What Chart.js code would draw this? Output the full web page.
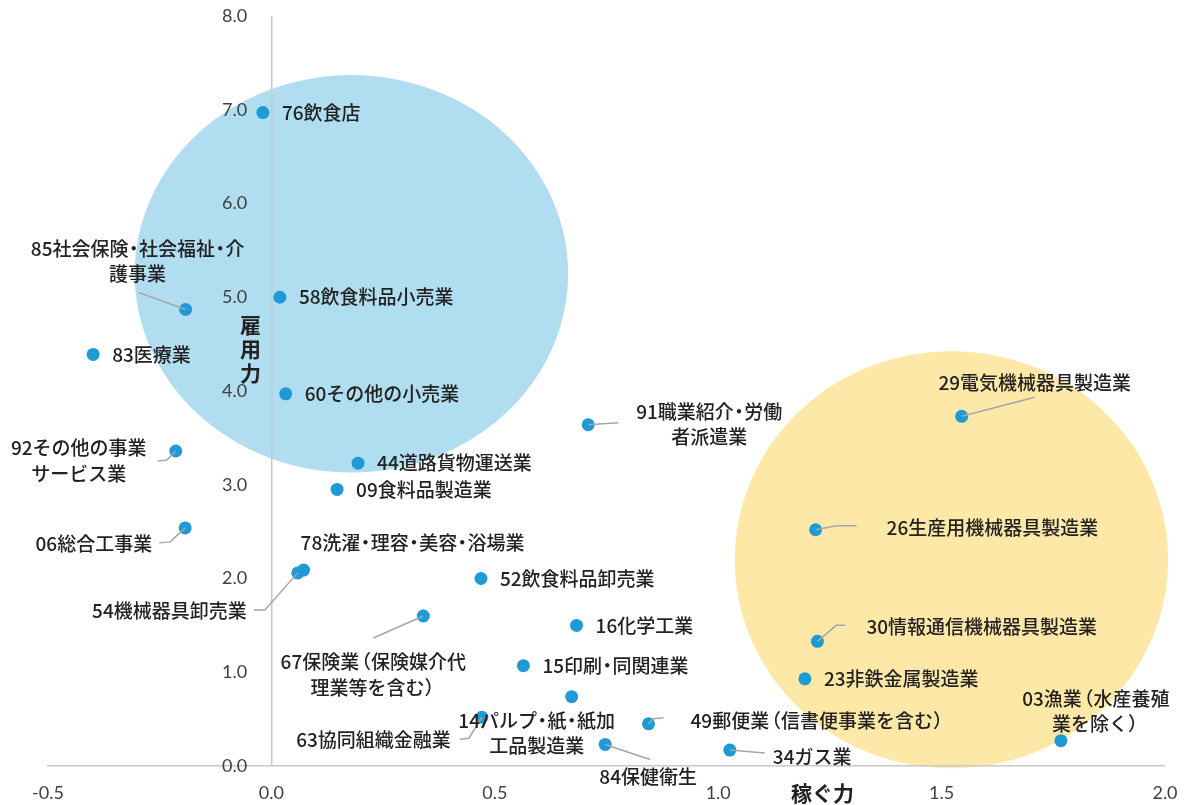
<!DOCTYPE html>
<html lang="ja">
<head>
<meta charset="utf-8">
<title>稼ぐ力と雇用力</title>
<script src="https://cdn.jsdelivr.net/npm/chart.js@4.4.0/dist/chart.umd.min.js"></script>
<style>
  html, body { margin: 0; padding: 0; background: #fff; }
  #wrap { width: 1184px; height: 805px; }
</style>
</head>
<body>
<div id="wrap"><canvas id="myChart" width="1184" height="805"></canvas></div>
<script>
// 業種（中分類）
var industries = [
  "76飲食店",
  "58飲食料品小売業",
  "85社会保険・社会福祉・介\n護事業",
  "83医療業",
  "60その他の小売業",
  "92その他の事業\nサービス業",
  "44道路貨物運送業",
  "09食料品製造業",
  "06総合工事業",
  "78洗濯・理容・美容・浴場業",
  "54機械器具卸売業",
  "52飲食料品卸売業",
  "67保険業（保険媒介代\n理業等を含む）",
  "16化学工業",
  "15印刷・同関連業",
  "14パルプ・紙・紙加\n工品製造業",
  "63協同組織金融業",
  "84保健衛生",
  "49郵便業（信書便事業を含む）",
  "34ガス業",
  "91職業紹介・労働\n者派遣業",
  "29電気機械器具製造業",
  "26生産用機械器具製造業",
  "30情報通信機械器具製造業",
  "23非鉄金属製造業",
  "03漁業（水産養殖\n業を除く）"
];

// 稼ぐ力（横軸）
var earnPower = [
  -0.019, 0.019, -0.192, -0.399, 0.032, -0.214, 0.194, 0.147, -0.193,
  0.072, 0.059, 0.469, 0.340, 0.683, 0.564, 0.672, 0.471, 0.747,
  0.844, 1.026, 0.709, 1.545, 1.218, 1.222, 1.194, 1.767
];

// 雇用力（縦軸）
var employPower = [
  6.97, 5.00, 4.87, 4.39, 3.97, 3.36, 3.23, 2.95, 2.54,
  2.09, 2.06, 2.00, 1.60, 1.50, 1.07, 0.74, 0.52, 0.23,
  0.45, 0.17, 3.64, 3.73, 2.52, 1.33, 0.93, 0.27
];

var xTickLabels = ["-0.5", "0.0", "0.5", "1.0", "1.5", "2.0"];
var yTickLabels = ["0.0", "1.0", "2.0", "3.0", "4.0", "5.0", "6.0", "7.0", "8.0"];

// 楕円のグループ（データ座標）
var zones = [
  { cx: 0.179, cy: 5.25, rx: 0.485, ry: 2.12, color: "#b0ddef" },
  { cx: 1.522, cy: 2.20, rx: 0.485, ry: 2.225, color: "#fee8a8" }
];

// ラベルの置き方（点からのピクセル差）。無いものは点の右側
var labelPlace = {
  2:  { dx: -48, dy: -61, align: "center", leader: [[-47, -17], [0, 0]] },
  5:  { dx: -97, dy: -3, align: "center", leader: [[-18, 10], [-9, 9], [0, 0]] },
  8:  { dx: -33, dy: 16, align: "right", leader: [[-26, 15], [-15, 14], [0, 0]] },
  9:  { dx: -3, dy: -27, align: "left" },
  10: { dx: -51, dy: 38, align: "right", leader: [[-44, 37], [-33, 37], [0, 0]] },
  12: { dx: -50, dy: 46, align: "center", leader: [[-50, 22], [0, 0]] },
  15: { dx: -35, dy: 24, align: "center" },
  16: { dx: -31, dy: 23, align: "right", leader: [[-22, 22], [-13, 21], [0, 0]] },
  17: { dx: 43, dy: 32, align: "center", leader: [[0, 0], [45, 15]] },
  18: { dx: 42, dy: -3, align: "left", leader: [[0, 0], [5, -5], [15, -6]] },
  19: { dx: 43, dy: 7, align: "left", leader: [[0, 0], [35, 3]] },
  20: { dx: 121, dy: -13, align: "center", leader: [[0, 0], [30, -2]] },
  21: { dx: 73, dy: -34, align: "center", leader: [[0, 0], [73, -19]] },
  22: { dx: 71, dy: -2, align: "left", leader: [[0, 0], [21, -4], [41, -4]] },
  23: { dx: 49, dy: -15, align: "left", leader: [[0, 0], [19, -16], [28, -16]] },
  25: { dx: 35, dy: -42, align: "center" }
};

var textColor = "#222222";
var fontSize = 19;
var labelFont = '500 19px "Noto Sans CJK JP"';

// 全角の中黒・括弧は詰めて組む（[詰めた幅, 字面のずらし]、emに対する比）
var narrowChars = { "・": [0.55, -0.225], "（": [0.62, -0.38], "）": [0.62, 0] };

function pieces(c, line) {
  var out = [], buf = "";
  for (var ch of line) {
    if (narrowChars[ch]) {
      if (buf) { out.push({ t: buf, w: c.measureText(buf).width, shift: 0 }); buf = ""; }
      out.push({ t: ch, w: narrowChars[ch][0] * fontSize, shift: narrowChars[ch][1] * fontSize });
    } else {
      buf += ch;
    }
  }
  if (buf) out.push({ t: buf, w: c.measureText(buf).width, shift: 0 });
  return out;
}

function drawLine(c, line, x, y, align) {
  var ps = pieces(c, line);
  var total = ps.reduce(function (s, p) { return s + p.w; }, 0);
  var cx = align === "center" ? x - total / 2 : align === "right" ? x - total : x;
  c.textAlign = "left";
  ps.forEach(function (p) {
    c.fillText(p.t, cx + p.shift, y);
    cx += p.w;
  });
}

var zonePlugin = {
  id: "zones",
  beforeDraw: function (chart) {
    var c = chart.ctx, xs = chart.scales.x, ys = chart.scales.y;
    zones.forEach(function (z) {
      var px = xs.getPixelForValue(z.cx), py = ys.getPixelForValue(z.cy);
      var rx = xs.getPixelForValue(z.cx + z.rx) - px;
      var ry = py - ys.getPixelForValue(z.cy + z.ry);
      c.save();
      c.fillStyle = z.color;
      c.beginPath();
      c.ellipse(px, py, rx, ry, 0, 0, Math.PI * 2);
      c.fill();
      c.restore();
    });
  }
};

var labelPlugin = {
  id: "pointLabels",
  afterDatasetsDraw: function (chart) {
    var c = chart.ctx;
    var pts = chart.getDatasetMeta(0).data;
    c.save();
    // 引き出し線
    c.strokeStyle = "#a6a6a6";
    c.lineWidth = 1.5;
    pts.forEach(function (p, i) {
      var lp = labelPlace[i];
      if (!lp || !lp.leader) return;
      c.beginPath();
      lp.leader.forEach(function (o, k) {
        if (k === 0) c.moveTo(p.x + o[0], p.y + o[1]);
        else c.lineTo(p.x + o[0], p.y + o[1]);
      });
      c.stroke();
    });
    // ラベル
    c.font = labelFont;
    c.fillStyle = textColor;
    c.textBaseline = "middle";
    pts.forEach(function (p, i) {
      var lp = labelPlace[i] || { dx: 19, dy: 0, align: "left" };
      industries[i].split("\n").forEach(function (line, k) {
        drawLine(c, line, p.x + lp.dx, p.y + lp.dy + k * 25.5, lp.align);
      });
    });
    c.restore();
  },
  afterDraw: function (chart) {
    var c = chart.ctx, xs = chart.scales.x, area = chart.chartArea;
    c.save();
    c.font = 'bold 21px "Noto Sans CJK JP"';
    c.fillStyle = textColor;
    c.textBaseline = "middle";
    c.textAlign = "center";
    // 縦軸タイトル（縦書き）
    var x0 = xs.getPixelForValue(0) - 21;
    "雇用力".split("").forEach(function (ch, k) {
      c.fillText(ch, x0, 325 + k * 24);
    });
    // 横軸タイトル
    c.textAlign = "left";
    c.fillText("稼ぐ力", 791, area.bottom + 27);
    c.restore();
  }
};

new Chart("myChart", {
  type: "scatter",
  data: {
    datasets: [{
      data: earnPower.map(function (x, i) { return { x: x, y: employPower[i] }; }),
      backgroundColor: "#1f9ad6",
      borderWidth: 0,
      pointRadius: 6.5,
      pointHoverRadius: 6.5
    }]
  },
  options: {
    responsive: false,
    animation: false,
    devicePixelRatio: 1,
    layout: { padding: { left: 48, right: 19, top: 16, bottom: 0 } },
    plugins: { legend: { display: false }, tooltip: { enabled: false } },
    scales: {
      x: {
        type: "linear",
        position: "bottom",
        min: -0.5,
        max: 2,
        ticks: {
          stepSize: 0.5,
          padding: 16,
          color: "#404040",
          font: { family: "Lato", size: 18 },
          callback: function (v, i) { return xTickLabels[i]; }
        },
        grid: {
          drawTicks: false,
          lineWidth: 1.5,
          color: function (ctx) {
            return ctx.tick && Math.abs(ctx.tick.value) < 1e-9 ? "#c8c8c8" : "rgba(0,0,0,0)";
          }
        },
        border: { color: "#c8c8c8", width: 1.5 },
        afterFit: function (s) { s.paddingLeft = 0; s.paddingRight = 0; s.height = 39; }
      },
      y: {
        type: "linear",
        position: "left",
        min: 0,
        max: 8,
        ticks: {
          stepSize: 1,
          mirror: true,
          padding: 174,
          color: "#404040",
          font: { family: "Lato", size: 18 },
          callback: function (v, i) { return yTickLabels[i]; }
        },
        grid: { display: false, drawTicks: false },
        border: { display: false },
        afterFit: function (s) { s.width = 0; s.paddingTop = 0; s.paddingBottom = 0; }
      }
    }
  },
  plugins: [zonePlugin, labelPlugin]
});
</script>
</body>
</html>
